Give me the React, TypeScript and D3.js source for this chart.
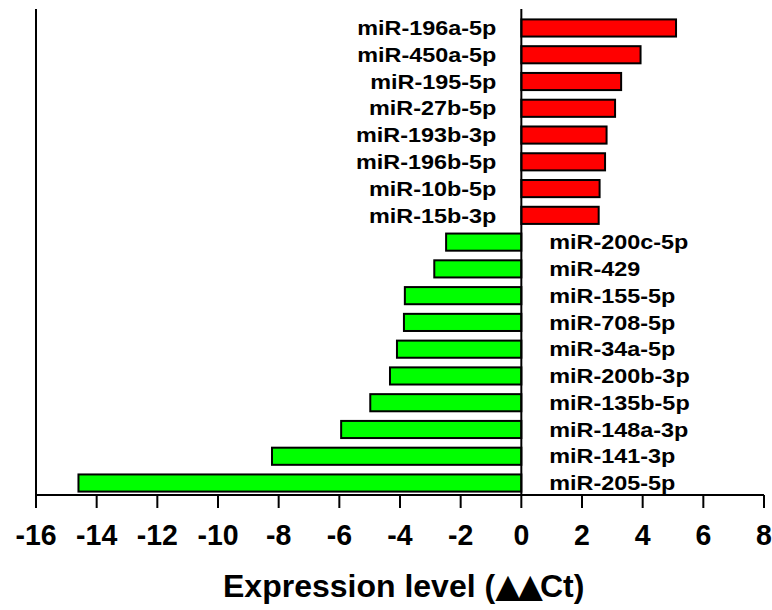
import React from 'react';
import * as d3 from 'd3';

// miRNAs, top to bottom
const mirnas = [
  'miR-196a-5p', 'miR-450a-5p', 'miR-195-5p', 'miR-27b-5p', 'miR-193b-3p',
  'miR-196b-5p', 'miR-10b-5p', 'miR-15b-3p', 'miR-200c-5p', 'miR-429',
  'miR-155-5p', 'miR-708-5p', 'miR-34a-5p', 'miR-200b-3p', 'miR-135b-5p',
  'miR-148a-3p', 'miR-141-3p', 'miR-205-5p',
];
// expression level (ddCt)
const values = [
  5.1, 3.93, 3.29, 3.09, 2.81, 2.76, 2.58, 2.55,
  -2.48, -2.87, -3.84, -3.87, -4.1, -4.33, -4.98, -5.94, -8.22, -14.6,
];
const xTicks = [-16, -14, -12, -10, -8, -6, -4, -2, 0, 2, 4, 6, 8];

const width = 772;
const height = 610;
const font = '"Liberation Sans", Arial, Helvetica, sans-serif';

const App = () => {
  const left = 36, right = 764, top = 9, axisY = 495;

  const x = d3.scaleLinear().domain([-16, 8]).range([left, right]);
  const y = d3.scaleBand<string>()
    .domain(mirnas)
    .range([14.6, 496.4])
    .paddingInner(0.36)
    .paddingOuter(0.18);

  const x0 = x(0);

  return (
    <svg width={width} height={height} style={{ position: 'absolute', left: 0, top: 0 }}>
      {/* bars */}
      {mirnas.map((m, i) => {
        const v = values[i];
        const bx = x(Math.min(0, v));
        const bw = Math.abs(x(v) - x0);
        return (
          <rect key={m} x={bx} y={y(m)} width={bw} height={y.bandwidth()}
            fill={v > 0 ? '#ff0000' : '#00ff00'} stroke="#000" strokeWidth={2} />
        );
      })}

      {/* labels */}
      {mirnas.map((m, i) => {
        const v = values[i];
        const cy = (y(m) as number) + y.bandwidth() / 2 + 7.2;
        const lx = v > 0 ? x0 - 25 : x0 + 28;
        return (
          <text key={m} transform={`translate(${lx},${cy}) scale(1.17,1)`}
            textAnchor={v > 0 ? 'end' : 'start'}
            fontFamily={font} fontWeight="bold" fontSize={20} fill="#000">
            {m}
          </text>
        );
      })}

      {/* axes */}
      <line x1={left} x2={left} y1={top} y2={axisY + 13} stroke="#000" strokeWidth={2} />
      <line x1={x0} x2={x0} y1={top} y2={axisY} stroke="#000" strokeWidth={2} />
      <line x1={left} x2={right} y1={axisY} y2={axisY} stroke="#000" strokeWidth={2} />
      {xTicks.map(t => (
        <g key={t}>
          <line x1={x(t)} x2={x(t)} y1={axisY} y2={axisY + 13} stroke="#000" strokeWidth={2} />
          <text transform={`translate(${x(t)},545) scale(0.95,1)`} textAnchor="middle"
            fontFamily={font} fontWeight="bold" fontSize={30} fill="#000">{t}</text>
        </g>
      ))}

      {/* axis title */}
      <text x={223} y={597} textAnchor="start" fontFamily={font} fontWeight="bold"
        fontSize={32} fill="#000">
        Expression level (<tspan fontSize={33} fontFamily="DejaVu Sans" letterSpacing={-3}>▲▲</tspan><tspan>Ct)</tspan>
      </text>
    </svg>
  );
};

export default App;
